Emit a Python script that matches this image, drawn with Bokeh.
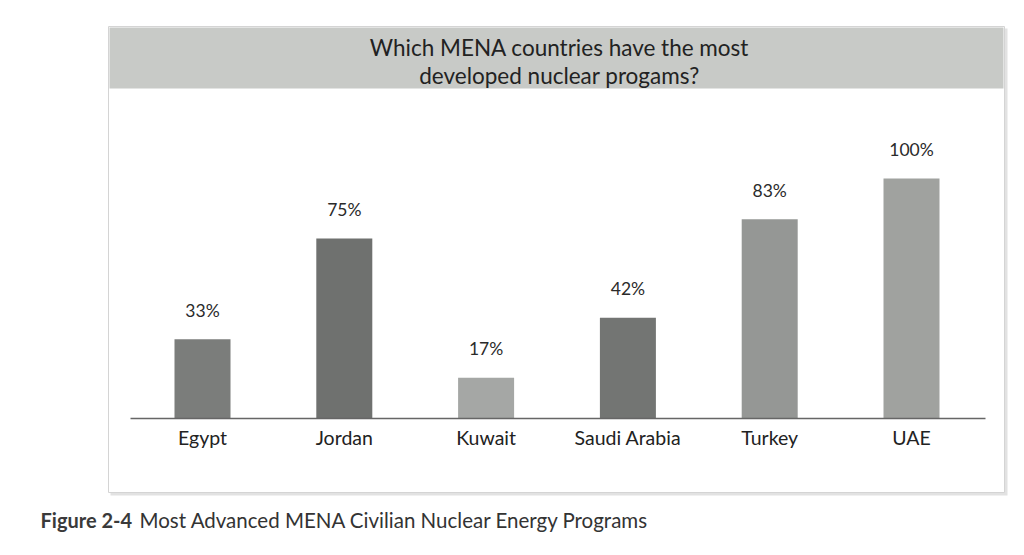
from bokeh.plotting import figure
from bokeh.models import Range1d, ColumnDataSource
from bokeh.core.properties import value
from bokeh.embed import file_html
from bokeh.resources import INLINE

# ---- data ----
categories = ["Egypt", "Jordan", "Kuwait", "Saudi Arabia", "Turkey", "UAE"]
shares = [33, 75, 17, 42, 83, 100]
bar_colors = ["#7b7d7b", "#6f716f", "#a5a7a5", "#737573", "#959795", "#a0a29f"]
value_labels = [f"{v}%" for v in shares]
title_lines = ["Which MENA countries have the most", "developed nuclear progams?"]
caption_bold = "Figure 2-4"
caption_text = "Most Advanced MENA Civilian Nuclear Energy Programs"

# ---- geometry (pixel layout -> data ranges) ----
W, H = 1024, 555
PX_PER_CAT = 141.8
FIRST_PX = 202
PX_PER_PCT = 2.4
BASE_PX = 418

x0 = -FIRST_PX / PX_PER_CAT
x1 = x0 + W / PX_PER_CAT
y0 = -(H - BASE_PX) / PX_PER_PCT
y1 = y0 + H / PX_PER_PCT


def dx(px):
    return x0 + px / PX_PER_CAT


def dy(py):
    return y1 - py / PX_PER_PCT


FONT = value("Lato")

p = figure(width=W, height=H, x_range=Range1d(x0, x1), y_range=Range1d(y0, y1),
           x_axis_location=None, y_axis_location=None, min_border=0,
           toolbar_location=None, output_backend="svg")
p.grid.visible = False
p.outline_line_color = None
p.background_fill_color = "white"
p.border_fill_color = "white"

# outer panel with faint shadow
p.quad(left=dx(110), right=dx(1007), top=dy(28), bottom=dy(495),
       fill_color="#e2e2e2", line_color=None)
p.quad(left=dx(108), right=dx(1004), top=dy(26), bottom=dy(492),
       fill_color="white", line_color="#d4d4d4", line_width=1)
# title band
p.quad(left=dx(109), right=dx(1003), top=dy(27), bottom=dy(88),
       fill_color="#c8cac7", line_color=None)

for i, line in enumerate(title_lines):
    p.text(x=[dx(559)], y=[dy(47 + 28 * i)], text=[line], text_font=FONT,
           text_font_size="22.5px", text_color="#222222", text_align="center",
           text_baseline="middle")

idx = list(range(len(categories)))
src = ColumnDataSource(dict(x=idx, top=shares, color=bar_colors, lab=value_labels,
                            cat=categories))

p.vbar(x="x", top="top", bottom=0, width=56 / PX_PER_CAT, fill_color="color",
       line_color=None, source=src)

# baseline
p.segment(x0=[dx(130)], y0=[0], x1=[dx(985)], y1=[0], line_color="#666666", line_width=1.5)

p.text(x="x", y="top", text="lab", source=src, text_font=FONT, text_font_size="17.5px",
       text_color="#2a2a2a", text_align="center", text_baseline="middle", y_offset=-29)
p.text(x="x", y=0, text="cat", source=src, text_font=FONT, text_font_size="19.5px",
       text_color="#222222", text_align="center", text_baseline="middle", y_offset=19)

# caption
p.text(x=[dx(40)], y=[dy(519)], text=[caption_bold], text_font=FONT, text_font_style="bold",
       text_font_size="20px", text_color="#3a3a3a", text_align="left", text_baseline="middle")
p.text(x=[dx(139)], y=[dy(519)], text=[caption_text], text_font=FONT,
       text_font_size="20.5px", text_color="#333333", text_align="left", text_baseline="middle")

open("out.html", "w").write(file_html(p, INLINE))
